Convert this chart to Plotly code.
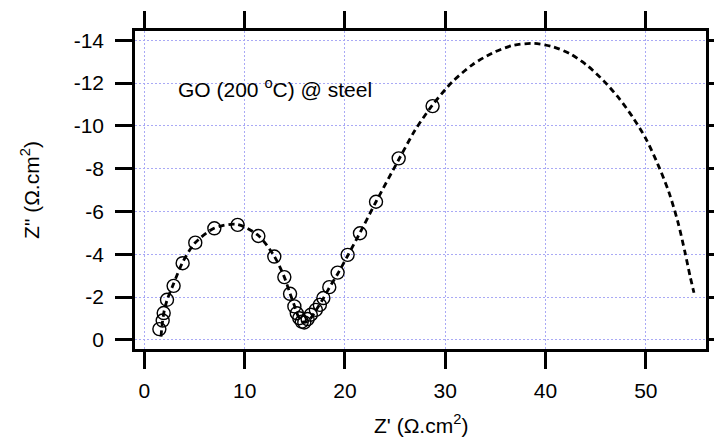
import plotly.graph_objects as go

# measured data (Z', Z'')
z_re = [1.5, 1.83, 1.93, 2.26, 2.92, 3.82, 5.08, 6.98, 9.3, 11.37, 12.96, 13.96, 14.53,
        14.96, 15.2, 15.45, 15.7, 15.95, 16.28, 16.6, 17.1, 17.5, 17.85, 18.44, 19.27,
        20.27, 21.5, 23.1, 25.36, 28.74]
z_im = [-0.5, -0.9, -1.25, -1.87, -2.52, -3.58, -4.54, -5.21, -5.37, -4.85, -3.89, -2.93, -2.15,
        -1.56, -1.24, -1.01, -0.85, -0.81, -0.97, -1.17, -1.4, -1.63, -1.95, -2.46, -3.14,
        -3.97, -4.98, -6.45, -8.48, -10.92]

# fitted curve
fit_re = [1.66, 1.8, 2.0, 2.3, 2.9, 3.8, 5.0, 6.9, 9.2, 11.3, 12.9, 13.9, 14.5, 15.0, 15.4,
          15.9, 16.4, 17.0, 17.8, 18.4, 19.3, 20.3, 21.5, 23.1, 25.4, 27.0, 28.7, 30.7, 32.7,
          34.7, 36.7, 38.8, 40.7, 42.5, 44.2, 45.8, 47.3, 48.7, 50.0, 51.2, 52.3, 53.2, 53.9,
          54.4, 54.8]
fit_im = [-0.15, -0.8, -1.4, -1.9, -2.6, -3.6, -4.5, -5.2, -5.4, -4.9, -3.95, -3.0, -2.2, -1.55, -1.05,
          -0.82, -0.9, -1.3, -1.9, -2.4, -3.1, -3.95, -5.0, -6.45, -8.45, -9.8, -10.95, -12.05, -12.85,
          -13.4, -13.75, -13.85, -13.7, -13.35, -12.8, -12.1, -11.3, -10.4, -9.4, -8.2, -6.9, -5.5, -4.1,
          -3.0, -2.2]

x_ticks = [0, 10, 20, 30, 40, 50]
y_ticks = [0, -2, -4, -6, -8, -10, -12, -14]
y_ticktext = ["0", "-2", "-4", "-6", "-8", "-10", "-12", "-14"]

FONT = "Liberation Sans, Arial, sans-serif"
FS = 21

fig = go.Figure()
fig.add_trace(go.Scatter(x=fit_re, y=fit_im, mode="lines",
                         line=dict(color="black", width=2.8, dash="6px,4px", shape="spline", smoothing=0.8),
                         showlegend=False, hoverinfo="skip"))
fig.add_trace(go.Scatter(x=z_re, y=z_im, mode="markers",
                         marker=dict(symbol="circle-open", size=13, color="black", line=dict(width=1.4, color="black")),
                         showlegend=False))

axis_common = dict(showline=True, linecolor="black", linewidth=2.5, mirror="ticks",
                   ticks="outside", ticklen=17, tickwidth=2.5, tickcolor="black",
                   showgrid=True, gridcolor="#a9a9f5", gridwidth=1, griddash="2px,2px",
                   zeroline=False, automargin=False,
                   tickfont=dict(family=FONT, size=FS, color="black"))

fig.update_xaxes(range=[-0.93, 56], tickvals=x_ticks, ticklabelstandoff=4, **axis_common)
fig.update_yaxes(range=[0.43, -14.43], tickvals=y_ticks, ticktext=y_ticktext, ticklabelstandoff=7, **axis_common)

fig.add_annotation(text="GO (200 <sup>o</sup>C) @ steel", x=3.16, y=-11.75, xref="x", yref="y",
                   xanchor="left", yanchor="middle", showarrow=False,
                   font=dict(family=FONT, size=FS, color="black"))
fig.add_annotation(text="Z' (Ω.cm<sup>2</sup>)", x=0.5, y=-0.235, xref="paper", yref="paper",
                   xanchor="center", yanchor="middle", showarrow=False,
                   font=dict(family=FONT, size=FS, color="black"))
fig.add_annotation(text='Z" (Ω.cm<sup>2</sup>)', x=-0.184, y=0.5, xref="paper", yref="paper",
                   xanchor="center", yanchor="middle", showarrow=False, textangle=-90,
                   font=dict(family=FONT, size=FS, color="black"))

# page body has an 8px default margin, so the figure is 8px smaller and offset
fig.update_layout(width=714, height=434, margin=dict(l=127, r=16, t=23, b=93),
                  plot_bgcolor="white", paper_bgcolor="white")
fig.write_html("out.html")
